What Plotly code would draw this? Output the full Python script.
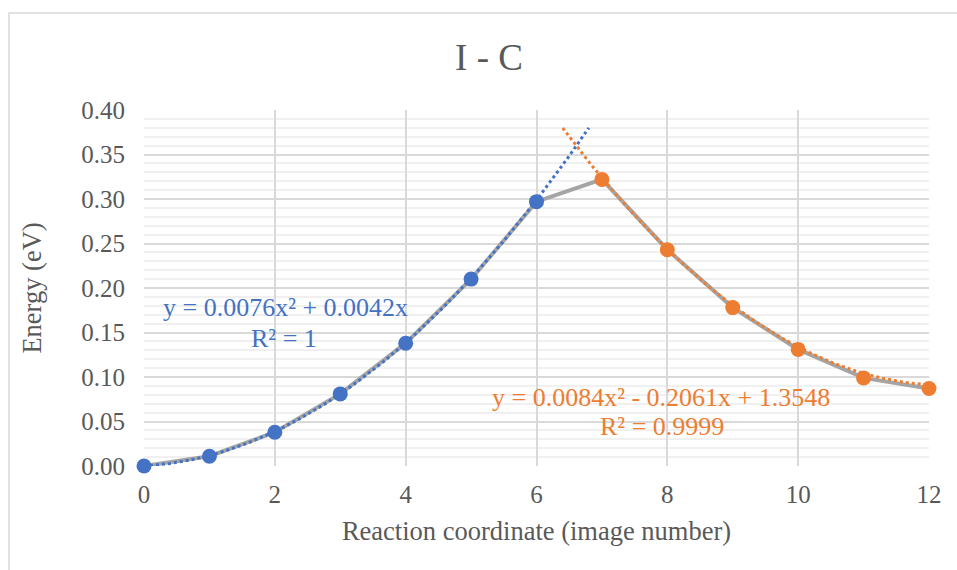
import numpy as np
import plotly.graph_objects as go

# Energy profile along the reaction coordinate (NEB images)
image_number = [0, 1, 2, 3, 4, 5, 6, 7, 8, 9, 10, 11, 12]
energy_ev = [0.000, 0.011, 0.038, 0.081, 0.138, 0.210, 0.297,
             0.322, 0.243, 0.178, 0.131, 0.099, 0.087]

# Split into the rising (blue) and falling (orange) branches
rise_x, rise_y = image_number[:7], energy_ev[:7]
fall_x, fall_y = image_number[7:], energy_ev[7:]

# Quadratic trendline coefficients (a, b, c) and R² for each branch
rise_coef = [0.0076, 0.0042, 0.0]
rise_r2 = "1"
rise_span = [0.0, 6.8]
fall_coef = [0.0084, -0.2061, 1.3548]
fall_r2 = "0.9999"
fall_span = [6.4, 12.0]

BLUE = "#4472C4"
ORANGE = "#ED7D31"
GREY_LINE = "#A5A5A5"
TEXT = "#595959"
FONT = "Liberation Serif"

W, H = 957, 570
ML, MR, MT, MB = 144, 28, 110, 104


def trend(coef, span):
    xs = np.linspace(span[0], span[1], 120)
    return xs, coef[0] * xs**2 + coef[1] * xs + coef[2]


fig = go.Figure()

fig.add_trace(go.Scatter(x=image_number, y=energy_ev, mode="lines",
                         line=dict(color=GREY_LINE, width=4),
                         cliponaxis=False, hoverinfo="skip"))

tx, ty = trend(rise_coef, rise_span)
fig.add_trace(go.Scatter(x=tx, y=ty, mode="lines",
                         line=dict(color=BLUE, width=3, dash="3px,3px"),
                         cliponaxis=False))
tx, ty = trend(fall_coef, fall_span)
fig.add_trace(go.Scatter(x=tx, y=ty, mode="lines",
                         line=dict(color=ORANGE, width=3, dash="3px,3px"),
                         cliponaxis=False))

fig.add_trace(go.Scatter(x=rise_x, y=rise_y, mode="markers",
                         marker=dict(color=BLUE, size=15),
                         cliponaxis=False))
fig.add_trace(go.Scatter(x=fall_x, y=fall_y, mode="markers",
                         marker=dict(color=ORANGE, size=15),
                         cliponaxis=False))


def px_x(p):
    return (p - ML) / (W - ML - MR)


def px_y(p):
    return (H - MB - p) / (H - MT - MB)


# Outer chart frame
fig.add_shape(type="rect", xref="paper", yref="paper",
              x0=px_x(9), x1=px_x(W + 20), y0=px_y(13), y1=px_y(H + 20),
              line=dict(color="#D9D9D9", width=1.5), fillcolor="rgba(0,0,0,0)",
              layer="below")

# Trendline equation labels
labels = [
    ("y = 0.0076x² + 0.0042x", 285, 307, BLUE),
    ("R² = " + rise_r2, 284, 338, BLUE),
    ("y = 0.0084x² - 0.2061x + 1.3548", 661, 397, ORANGE),
    ("R² = " + fall_r2, 662, 426, ORANGE),
]
for text, cx, cy, col in labels:
    fig.add_annotation(text=text, xref="paper", yref="paper",
                       x=px_x(cx), y=px_y(cy), xanchor="center", yanchor="middle",
                       showarrow=False, font=dict(family=FONT, size=26, color=col))

fig.update_layout(
    width=W, height=H,
    margin=dict(l=ML, r=MR, t=MT, b=MB),
    paper_bgcolor="white", plot_bgcolor="white",
    showlegend=False,
    title=dict(text="I - C", x=(455 + 523) / 2 / W, xanchor="center",
               y=1 - 57 / H, yanchor="middle",
               font=dict(family=FONT, size=37, color=TEXT)),
    font=dict(family=FONT, color=TEXT),
)

fig.update_xaxes(
    range=[0, 12], dtick=2, tick0=0,
    showgrid=True, gridcolor="#D9D9D9", gridwidth=1.5,
    zeroline=False, showline=False,
    ticks="outside", ticklen=6, tickcolor="rgba(0,0,0,0)",
    tickfont=dict(family=FONT, size=25, color=TEXT),
    title=dict(text="Reaction coordinate (image number)", standoff=14,
               font=dict(family=FONT, size=26.5, color=TEXT)),
)
fig.update_yaxes(
    range=[0, 0.40], dtick=0.05, tick0=0, tickformat=".2f",
    showgrid=True, gridcolor="#D9D9D9", gridwidth=1.5,
    minor=dict(dtick=0.01, showgrid=True, gridcolor="#F0F0F0", gridwidth=1.5),
    zeroline=False, showline=False,
    ticks="outside", ticklen=13, tickcolor="rgba(0,0,0,0)",
    tickfont=dict(family=FONT, size=25, color=TEXT),
    title=dict(text="Energy (eV)", standoff=31,
               font=dict(family=FONT, size=26.5, color=TEXT)),
)

fig.write_html("out.html")
